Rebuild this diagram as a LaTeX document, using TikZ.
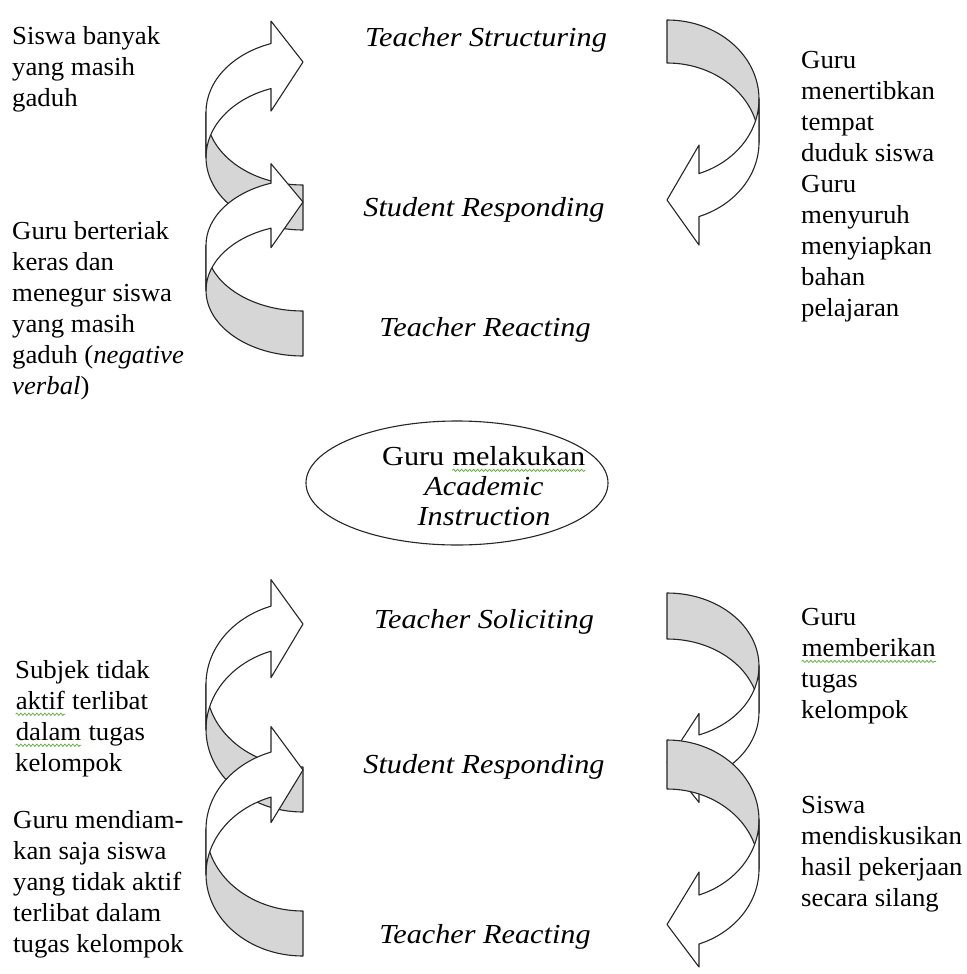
\documentclass[tikz,border=0pt]{standalone}
\usepackage{fontspec}
\setmainfont{Liberation Serif}
\newfontfamily\notefont{Liberation Serif}[FakeStretch=1.03]
\newfontfamily\labelfont{Liberation Serif}[FakeStretch=1.1]
\usetikzlibrary{shapes.geometric,decorations.pathmorphing}

\definecolor{bandgray}{RGB}{214,214,214}
\definecolor{spellgreen}{RGB}{100,175,70}

% wavy green underline (spell-check mark)
\newcommand\spellwave[1]{\tikz[baseline=(sw.base),x=1pt,y=1pt]{%
  \node[inner sep=0pt] (sw) {#1};
  \draw[spellgreen, line width=0.8pt,
    decorate, decoration={snake, amplitude=1.1pt, segment length=4pt}]
    ([yshift=-5pt]sw.base west) -- ([yshift=-5pt]sw.base east);}}

% curved block arrow in its own frame: bulge at x=0, tail and head at x=w,
% tail at the top, head at the bottom (y grows downwards)
% #1 width, #2 height, #3 band thickness, #4 head width, #5 head length
\newcommand{\bandarrow}[5]{%
  \pgfmathsetmacro{\cw}{#1}%
  \pgfmathsetmacro{\ch}{#2}%
  \pgfmathsetmacro{\cth}{#3}%
  \pgfmathsetmacro{\caw}{#4}%
  \pgfmathsetmacro{\cah}{#5}%
  \pgfmathsetmacro{\chR}{\ch/2-(\cth+\caw)/4}%
  \pgfmathsetmacro{\cbeta}{acos(\cah/\cw)}%
  \pgfmathsetmacro{\cyv}{\chR+\chR*sin(\cbeta)}%
  \pgfmathsetmacro{\cys}{\cyv+\cth}%
  \pgfmathsetmacro{\cdh}{(\caw-\cth)/2}%
  \pgfmathsetmacro{\cxa}{\cw-\cah}%
  \pgfmathsetmacro{\cang}{180-\cbeta}%
  % back face of the band
  \filldraw[backband] (\cw,0)
    arc[start angle=270,end angle=180,x radius=\cw,y radius=\chR]
    -- (0,\chR+\cth)
    arc[start angle=180,end angle=270,x radius=\cw,y radius=\chR] -- cycle;
  % front face with the head
  \filldraw[frontband] (0,\chR)
    arc[start angle=180,end angle=\cang,x radius=\cw,y radius=\chR]
    -- (\cxa,\cyv-\cdh) -- (\cw,\ch-\caw/2) -- (\cxa,\cys+\cdh) -- (\cxa,\cys)
    arc[start angle=\cang,end angle=180,x radius=\cw,y radius=\chR] -- cycle;
}

\tikzset{
  backband/.style={fill=bandgray, draw=black!85, line width=1.1pt, line join=round},
  frontband/.style={fill=white, draw=black!85, line width=1.1pt, line join=round},
  note/.style={anchor=north west, align=left, inner sep=0pt,
    font=\notefont\fontsize{26}{31}\selectfont},
  phase/.style={inner sep=0pt, font=\labelfont\fontsize{27.5}{31}\selectfont\itshape},
}

\begin{document}
\begin{tikzpicture}[x=1pt,y=-1pt]
\fill[white] (0,0) rectangle (966,974);
\useasboundingbox (0,0) rectangle (966,974);

% left arrows, upper cycle
\begin{scope}[shift={(206,230)},yscale=-1]\bandarrow{97}{213}{45}{90}{32}\end{scope}
\begin{scope}[shift={(206,356)},yscale=-1]\bandarrow{97}{196}{45}{84}{32}\end{scope}
% right arrow, upper cycle
\begin{scope}[shift={(759,20)},xscale=-1]\bandarrow{92}{230}{43}{100}{32}\end{scope}

% left arrows, lower cycle
\begin{scope}[shift={(206,812)},yscale=-1]\bandarrow{97}{237}{45}{98}{32}\end{scope}
\begin{scope}[shift={(206,956)},yscale=-1]\bandarrow{97}{234}{45}{96}{32}\end{scope}
% right arrows, lower cycle
\begin{scope}[shift={(759,593)},xscale=-1]\bandarrow{92}{214}{46}{89}{32}\end{scope}
\begin{scope}[shift={(759,740)},xscale=-1]\bandarrow{92}{232}{49}{95}{32}\end{scope}

% phases
\node[phase] (ts1) at (486,40)  {Teacher Structuring};
\node[phase] (sr1) at (484,210) {Student Responding};
\node[phase] (tr1) at (485,330) {Teacher Reacting};
\node[phase] (tso) at (484,622) {Teacher Soliciting};
\node[phase] (sr2) at (484,767) {Student Responding};
\node[phase] (tr2) at (485,937) {Teacher Reacting};

% central ellipse
\node[ellipse, draw=black!85, line width=1.1pt, minimum width=302pt, minimum height=124pt]
  (core) at (457,483) {};
\node[align=center, inner sep=0pt, font=\labelfont\fontsize{27.5}{30}\selectfont]
  (coretext) at (484,486) {Guru \spellwave{melakukan}\\\textit{Academic}\\\textit{Instruction}};

% notes, upper cycle
\node[note] (n1) at (12,26)  {Siswa banyak\\yang masih\\gaduh};
\node[note] (n2) at (12,221) {Guru berteriak\\keras dan\\menegur siswa\\yang masih\\gaduh (\textit{negative}\\\textit{verbal})};
\node[note] (n3) at (801,51) {Guru\\menertibkan\\tempat\\duduk siswa\\Guru\\menyuruh\\menyiapkan\\bahan\\pelajaran};

% notes, lower cycle
\node[note] (n4) at (15,660) {Subjek tidak\\\spellwave{aktif} terlibat\\\spellwave{dalam} tugas\\kelompok};
\node[note] (n5) at (13,810) {Guru mendiam-\\kan saja siswa\\yang tidak aktif\\terlibat dalam\\tugas kelompok};
\node[note] (n6) at (801,608) {Guru\\\spellwave{memberikan}\\tugas\\kelompok};
\node[note] (n7) at (801,796) {Siswa\\mendiskusikan\\hasil pekerjaan\\secara silang};
\end{tikzpicture}
\end{document}
